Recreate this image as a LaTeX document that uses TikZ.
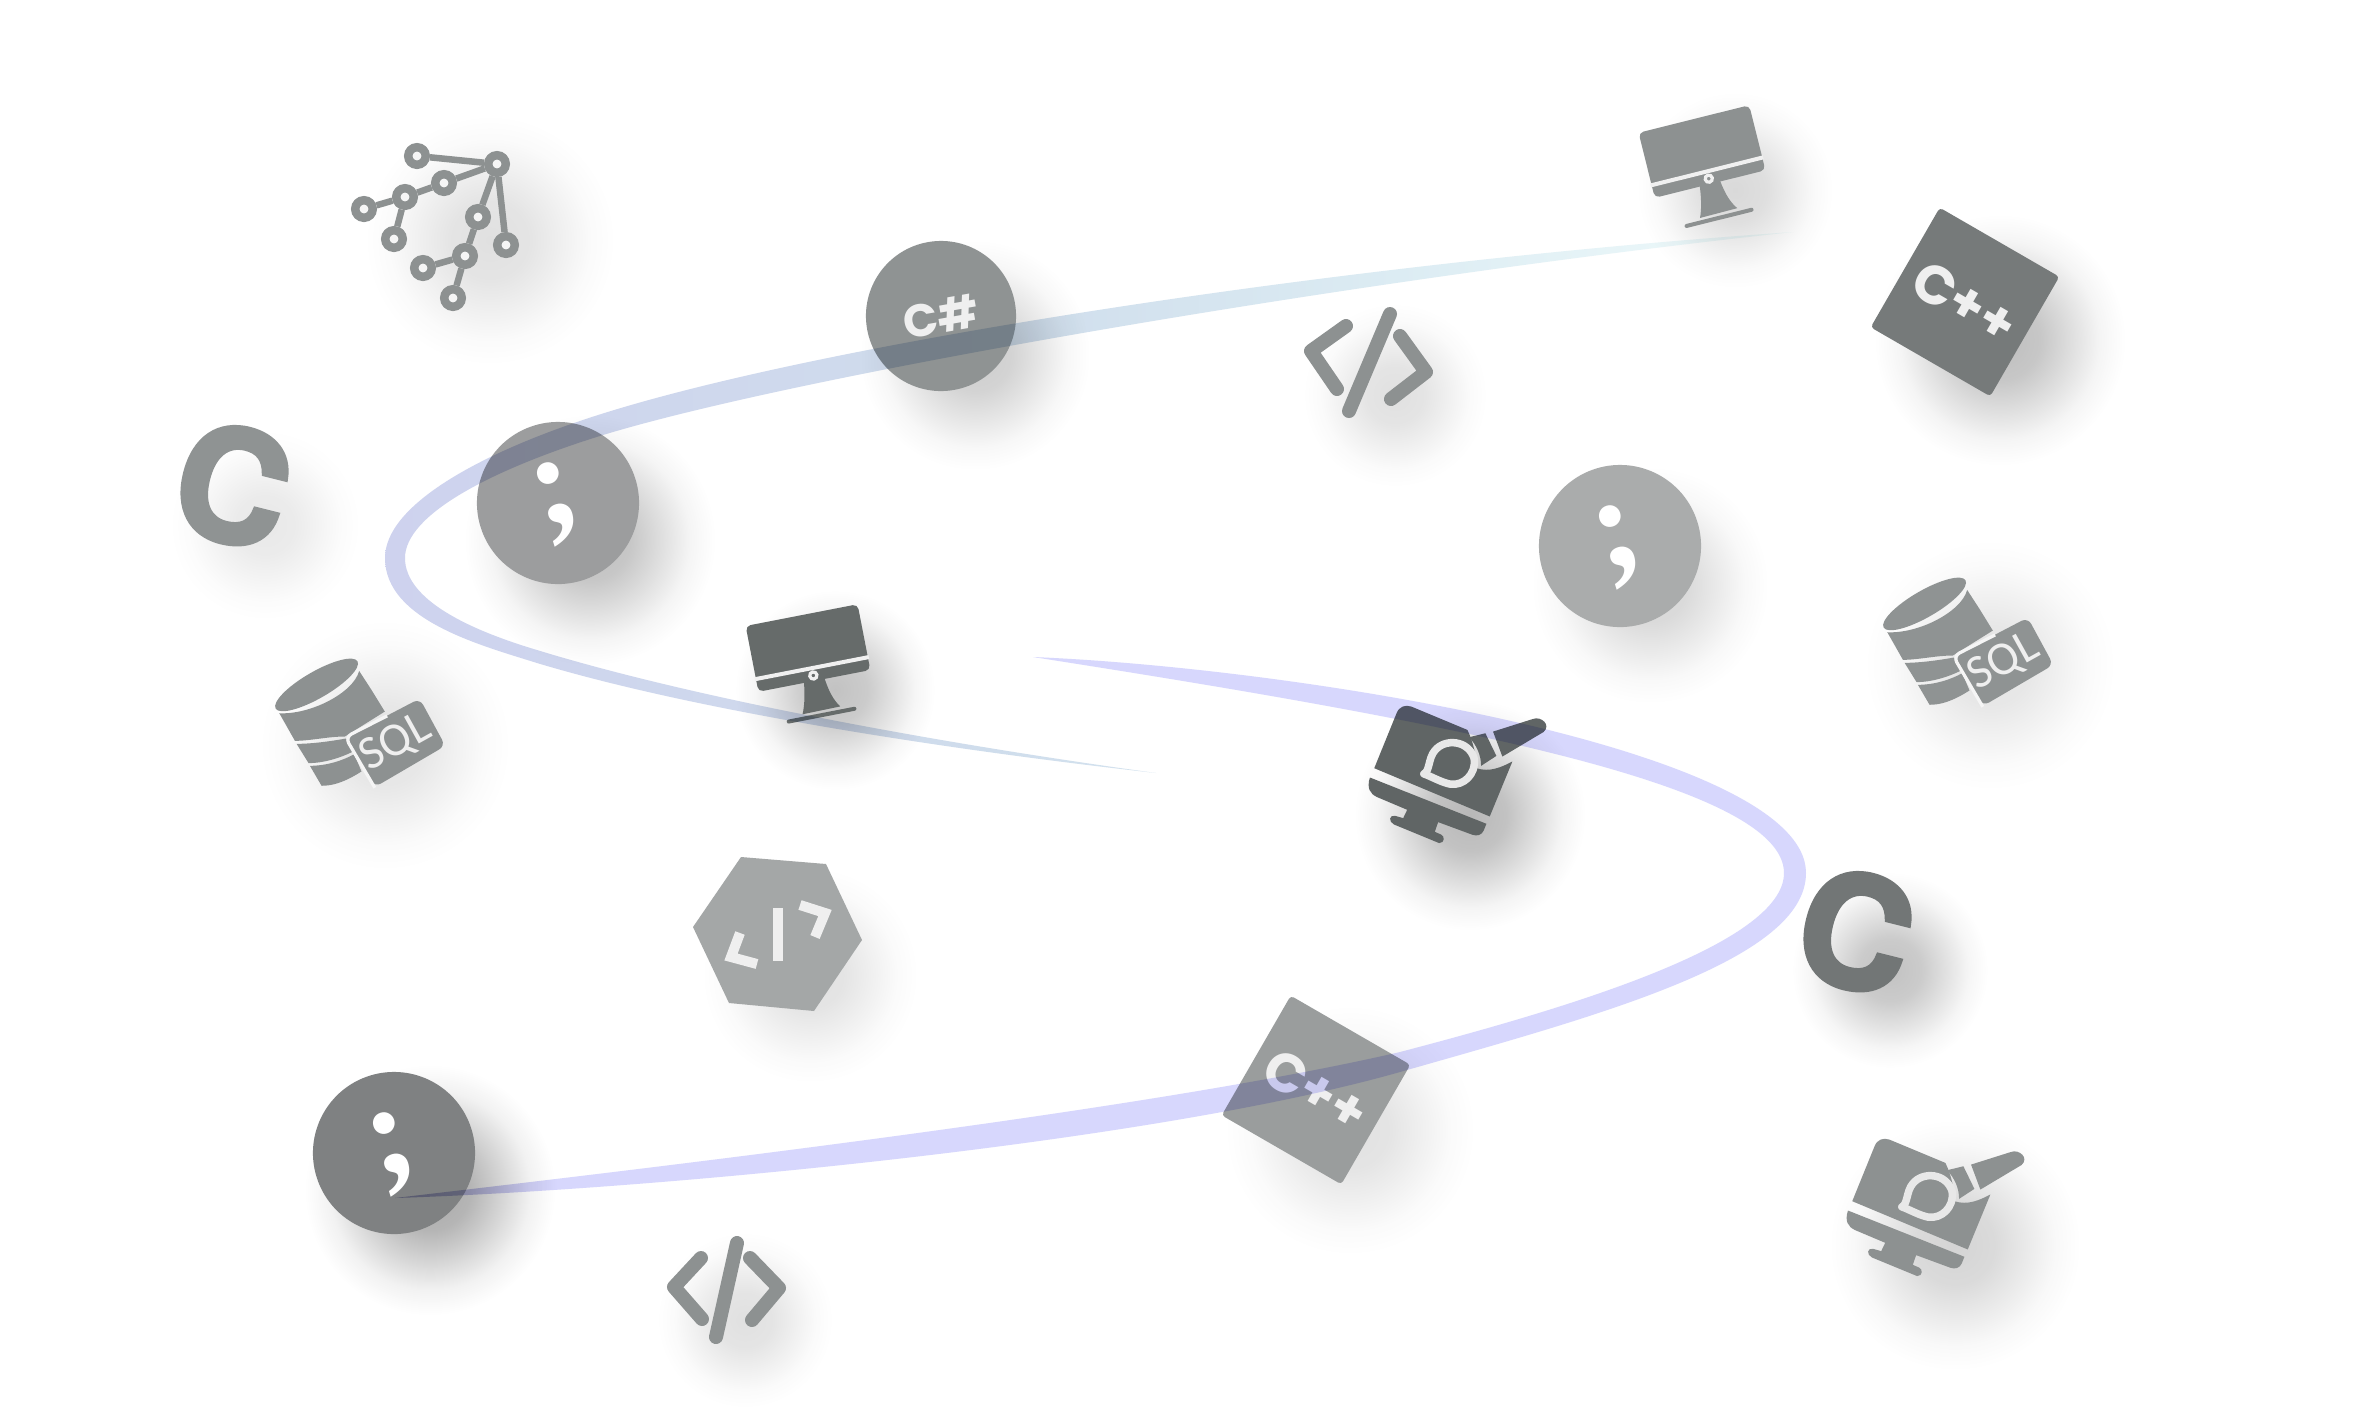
\documentclass[tikz,border=0pt]{standalone}
\usepackage{fontspec}
\setmainfont{Poppins}
\newfontfamily\semifont{Liberation Serif}
\newfontfamily\herosfont[BoldFeatures={FakeBold=3}]{TeX Gyre Heros}
\newfontfamily\sqlfont{Carlito}
\usetikzlibrary{fadings,shapes.geometric}
\definecolor{gTree}{HTML}{8D9191}
\definecolor{gCsharp}{HTML}{8F9393}
\definecolor{gSemiA}{HTML}{9C9D9E}
\definecolor{gSemiB}{HTML}{AAACAC}
\definecolor{gSemiC}{HTML}{7F8182}
\definecolor{gMonDark}{HTML}{666B6A}
\definecolor{gCppTop}{HTML}{767A7A}
\definecolor{gCppLow}{HTML}{9A9D9D}
\definecolor{gHex}{HTML}{A4A7A7}
\definecolor{gBrush}{HTML}{606565}
\definecolor{gCRight}{HTML}{727676}
\definecolor{iconLight}{HTML}{EFEFEF}
\definecolor{rA}{HTML}{CED2EE}
\definecolor{rB}{HTML}{CFDDEC}
\definecolor{rC}{HTML}{DCECF3}
\definecolor{rD}{HTML}{F0FBFB}
\definecolor{rE}{HTML}{D7D7FD}
\definecolor{rF}{HTML}{C4C4EC}
\definecolor{rG}{HTML}{B0B0D8}
\pgfdeclarehorizontalshading{ribA}{100bp}{color(0bp)=(rA);color(25bp)=(rA);color(46.8bp)=(rB);color(61bp)=(rC);color(75bp)=(rD);color(100bp)=(rD)}
\pgfdeclarehorizontalshading{ribB}{100bp}{color(0bp)=(rG);color(25bp)=(rG);color(27.6bp)=(rF);color(30.8bp)=(rE);color(100bp)=(rE)}
\pgfdeclareradialshading{softblobshade}{\pgfpointorigin}{color(0bp)=(transparent!0);color(8bp)=(transparent!15);color(14bp)=(transparent!50);color(20bp)=(transparent!85);color(25bp)=(transparent!100);color(50bp)=(transparent!100)}
\pgfdeclarefading{softblob}{\pgfuseshading{softblobshade}}
\def\pxu{0.2845pt}
\tikzset{
  ribbon/.style={blend mode=multiply},
  treering/.style={circle,draw=gTree,fill=white!96!black,line width=8.5*\pxu,inner sep=0pt,minimum size=0.175cm},
  treelink/.style={draw=gTree,line width=6.5*\pxu},
  semiglyph/.style={circle,inner sep=0pt,minimum size=1.62cm,text=white,font=\semifont\bfseries\fontsize{38}{38}\selectfont},
  bigc/.style={inner sep=0pt,font=\herosfont\bfseries\fontsize{44}{44}\selectfont},
  cppsq/.style={rectangle,rounded corners=1pt,inner sep=0pt,minimum size=1.38cm,text=iconLight,font=\bfseries\fontsize{15.5}{15.5}\selectfont},
  codestroke/.style={draw=gTree,line width=14*\pxu,line cap=round,line join=round},
  hexstroke/.style={draw=iconLight,line width=10*\pxu,line join=miter}
}
\newcommand{\softshadow}[4]{\fill[black,fill opacity=#4,path fading=softblob] (#1,#2) circle[radius=#3];}
\newcommand{\monitoricon}[4]{%
  \begin{scope}[shift={(#1,#2)},rotate=#3]
    \fill[#4,rounded corners=1.4pt] (-57,-33.5) -- (57,-33.5) -- (57,33.5) -- (-57,33.5) -- cycle;
    \fill[white!94!black] (-58,18.5) rectangle (58,22.5);
    \fill[#4] (-10.5,33) -- (10.5,33) .. controls (12,46) and (15,56) .. (20.5,63.5) -- (-18,64) .. controls (-14,55) and (-12,45) .. (-10.5,33) -- cycle;
    \draw[#4,line width=4*\pxu,line cap=round] (-33,68.5) -- (34,68.5);
    \draw[white!94!black,line width=3.2*\pxu] (0,28) circle[radius=3.6];
  \end{scope}}
\newcommand{\sqlicon}[4]{%
  \begin{scope}[shift={(#1,#2)},x=0.0033333cm,y=-0.0033333cm]
    \fill[#3,rotate around={30:(170,135)}] (170,135) ellipse[x radius=142,y radius=40];
    \fill[#3] (58,220) .. controls (150,225) and (280,160) .. (298,93) -- (335,150) -- (375,215) -- (255,290) .. controls (205,290) and (150,303) .. (105,303) -- cycle;
    \fill[#3] (110,312) .. controls (160,312) and (220,303) .. (258,296) -- (280,335) .. controls (240,355) and (190,370) .. (146,370) -- cycle;
    \fill[#3] (150,378) .. controls (200,378) and (250,362) .. (283,343) -- (305,395) .. controls (250,430) and (215,438) .. (185,438) -- cycle;
    \fill[#3,rounded corners=2pt] (258,292) -- (480,176) -- (557,318) -- (345,442) -- cycle;
    \draw[draw=white!96!black,line width=3.2*\pxu,rounded corners=2pt] (382,228) -- (256,292) -- (345,444);
    \node (#4) [inner sep=0pt,rotate=29,text=iconLight,font=\sqlfont\fontsize{13.5}{13.5}\selectfont] at (408,310) {SQL};
  \end{scope}}
\newcommand{\brushicon}[3]{%
  \begin{scope}[shift={(#1,#2)},x=0.0033333cm,y=-0.0033333cm]
    \fill[#3] (163,265) -- (230,100) .. controls (238,80) and (255,73) .. (275,80) -- (443,150) .. controls (462,190) and (470,230) .. (470,265) .. controls (510,278) and (545,262) .. (578,245) -- (510,410) -- cycle;
    \fill[#3] (150,293) -- (500,432) -- (492,452) .. controls (486,466) and (472,470) .. (458,465) -- (355,427) -- (345,456) -- (365,465) .. controls (375,470) and (375,490) .. (358,490) -- (222,434) .. controls (205,425) and (208,405) .. (225,408) -- (250,415) -- (262,390) -- (172,352) .. controls (150,342) and (140,325) .. (150,293) -- cycle;
    \fill[#3] (448,172) -- (497,160) -- (530,228) -- (484,258) .. controls (484,225) and (470,195) .. (448,172) -- cycle;
    \fill[#3] (520,155) -- (640,117) .. controls (665,108) and (695,135) .. (672,156) -- (548,230) -- cycle;
    \draw[fill=#3,draw=white!91!black,line width=7.5*\pxu,line join=round] (312,282) .. controls (330,275) and (325,235) .. (345,212) .. controls (375,175) and (445,180) .. (463,235) .. controls (470,285) and (430,318) .. (392,313) .. controls (365,308) and (335,290) .. (312,282) -- cycle;
  \end{scope}}
\begin{document}
\begin{tikzpicture}[x=0.01cm,y=-0.01cm]
\useasboundingbox (0,0) rectangle (2362,1417);
\fill[white] (0,0) rectangle (2362,1417);
% soft shadows
\softshadow{490}{240}{125}{.12}
\softshadow{975}{355}{115}{.2}
\softshadow{590}{540}{125}{.26}
\softshadow{265}{525}{95}{.09}
\softshadow{835}{690}{100}{.24}
\softshadow{385}{745}{125}{.11}
\softshadow{810}{975}{108}{.12}
\softshadow{430}{1190}{125}{.34}
\softshadow{745}{1320}{88}{.12}
\softshadow{1350}{1130}{125}{.12}
\softshadow{1470}{815}{115}{.28}
\softshadow{1395}{395}{92}{.12}
\softshadow{1735}{190}{98}{.15}
\softshadow{2000}{340}{125}{.26}
\softshadow{1650}{585}{118}{.17}
\softshadow{1990}{665}{125}{.11}
\softshadow{1890}{970}{98}{.24}
\softshadow{1955}{1245}{125}{.17}
% tree
\node (ta) [treering] at (417,156) {};
\node (tb) [treering] at (497,164) {};
\node (tc) [treering] at (444,183) {};
\node (td) [treering] at (405,197) {};
\node (te) [treering] at (364,209) {};
\node (tf) [treering] at (394,239) {};
\node (tg) [treering] at (478,217) {};
\node (th) [treering] at (506,245) {};
\node (ti) [treering] at (465,256) {};
\node (tj) [treering] at (423,268) {};
\node (tk) [treering] at (453,298) {};
\draw[treelink] (ta) -- (tb);
\draw[treelink] (tb) -- (tc);
\draw[treelink] (tc) -- (td);
\draw[treelink] (td) -- (te);
\draw[treelink] (td) -- (tf);
\draw[treelink] (tb) -- (tg);
\draw[treelink] (tb) -- (th);
\draw[treelink] (tg) -- (ti);
\draw[treelink] (ti) -- (tj);
\draw[treelink] (ti) -- (tk);
% circles
\node (csharp) [circle,fill=gCsharp,inner sep=0pt,minimum size=1.5cm,text=iconLight,rotate=10,font=\bfseries\fontsize{13}{13}\selectfont] at (941,316) {C\#};
\node (semiA) [semiglyph,fill=gSemiA,rotate=17] at (558,503) {;};
\node (semiB) [semiglyph,fill=gSemiB,rotate=17] at (1620,546) {;};
\node (semiC) [semiglyph,fill=gSemiC,rotate=17] at (394,1153) {;};
% big C
\node (cleft) [bigc,text=gCsharp,rotate=-14] at (233,485) {C};
\node (cright) [bigc,text=gCRight,rotate=-14] at (1856,931) {C};
% squares
\node (cpptop) [cppsq,fill=gCppTop,rotate=-30] at (1965,302) {C++};
\node (cpplow) [cppsq,fill=gCppLow,rotate=-30] at (1316,1090) {C++};
% code icons
\coordinate (ula) at (1346,326); \coordinate (ulb) at (1311,351); \coordinate (ulc) at (1337,389);
\coordinate (ura) at (1400,336); \coordinate (urb) at (1426,372); \coordinate (urc) at (1391,399);
\coordinate (usa) at (1390,314); \coordinate (usb) at (1349,411);
\draw[codestroke] (ula) -- (ulb) -- (ulc);
\draw[codestroke] (ura) -- (urb) -- (urc);
\draw[codestroke] (usa) -- (usb);
\coordinate (lla) at (701,1258); \coordinate (llb) at (674,1287); \coordinate (llc) at (702,1319);
\coordinate (lra) at (750,1258); \coordinate (lrb) at (779,1288); \coordinate (lrc) at (752,1320);
\coordinate (lsa) at (737,1243); \coordinate (lsb) at (716,1337);
\draw[codestroke] (lla) -- (llb) -- (llc);
\draw[codestroke] (lra) -- (lrb) -- (lrc);
\draw[codestroke] (lsa) -- (lsb);
% hexagon
\fill[gHex] (741,857) -- (826,864) -- (862,940) -- (814,1011) -- (729,1003) -- (693,927) -- cycle;
\draw[hexstroke] (740,933) -- (731,957) -- (757,964);
\draw[hexstroke] (778,908) -- (778,961);
\draw[hexstroke] (800,905) -- (825,913) -- (815,937);
% monitors
\monitoricon{1702}{151.5}{14}{gTree}
\monitoricon{808}{648}{11}{gMonDark}
% SQL
\sqlicon{260}{640}{gTree}{sqlA}
\sqlicon{1868}{559}{gCsharp}{sqlB}
% brush
\brushicon{1320}{680}{gBrush}
\brushicon{1798}{1113}{gTree}
% ribbons
\shade[ribbon,shading=ribA] (1793,232) .. controls (1350,262) and (800,345) .. (577,422) .. controls (480,455) and (385,505) .. (385,558) .. controls (385,620) and (480,645) .. (537,663) .. controls (700,712) and (950,750) .. (1156,773) .. controls (950,745) and (700,700) .. (537,650) .. controls (470,630) and (405,600) .. (405,558) .. controls (405,515) and (490,470) .. (603,435) .. controls (800,375) and (1350,280) .. (1793,232) -- cycle;
\shade[ribbon,shading=ribB] (1033,657) .. controls (1300,668) and (1806,750) .. (1806,873) .. controls (1806,960) and (1600,1015) .. (1400,1072) .. controls (1150,1143) and (650,1190) .. (395,1198) .. controls (650,1168) and (1150,1110) .. (1400,1052) .. controls (1560,1010) and (1784,945) .. (1784,873) .. controls (1784,785) and (1450,722) .. (1033,657) -- cycle;
\end{tikzpicture}
\end{document}
